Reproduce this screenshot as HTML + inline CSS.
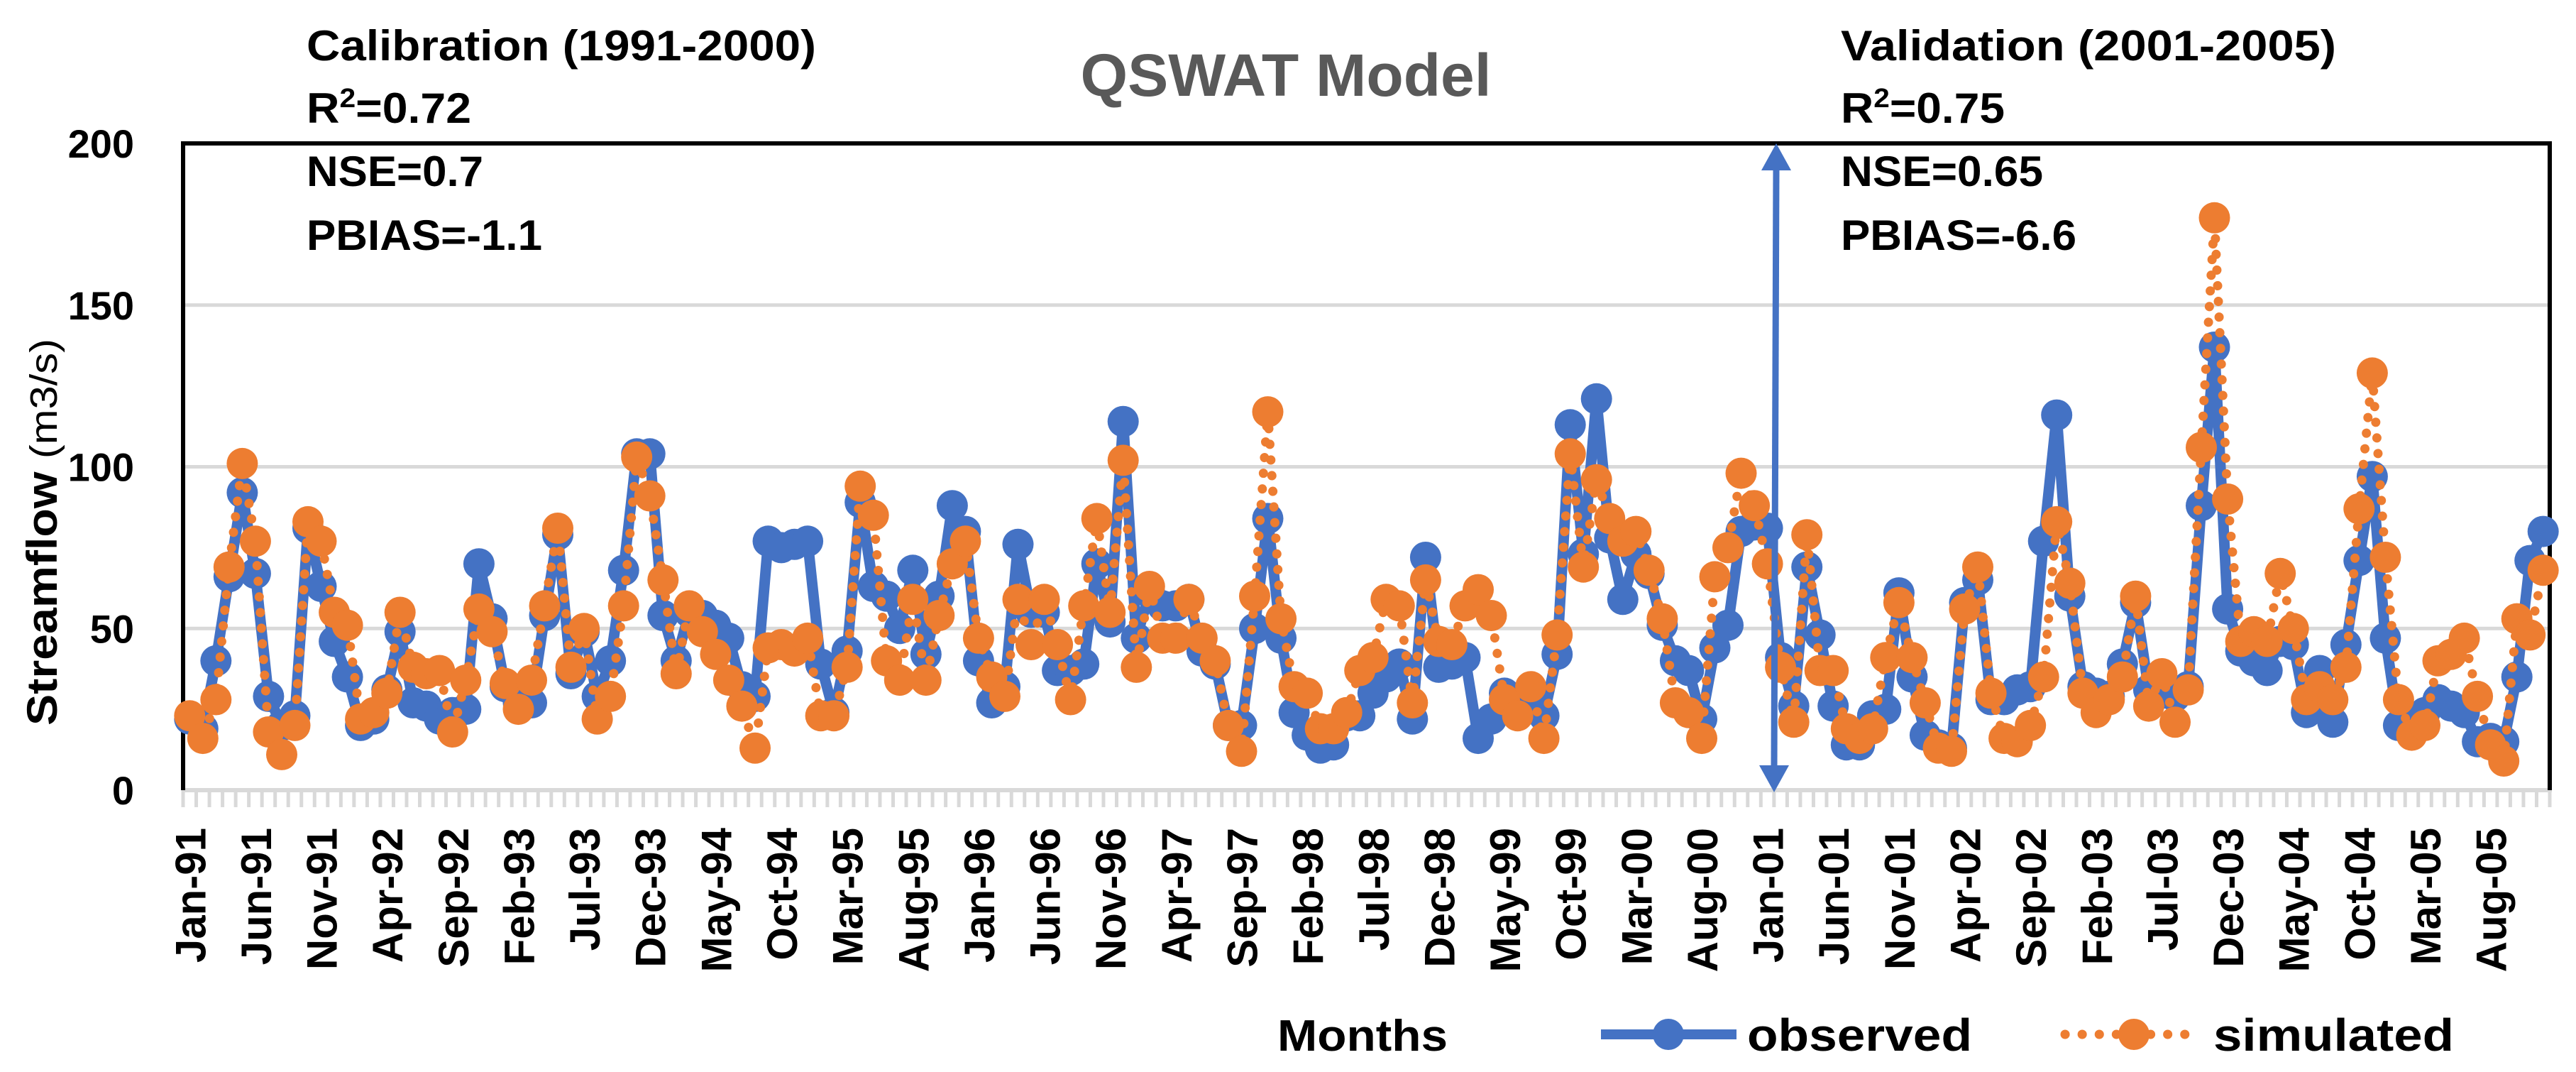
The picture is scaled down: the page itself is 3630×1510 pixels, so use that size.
<!DOCTYPE html>
<html><head><meta charset="utf-8"><style>
html,body{margin:0;padding:0;background:#fff;}
svg{display:block;font-family:"Liberation Sans",sans-serif;}
</style></head><body>
<svg id="chart" width="3630" height="1510" viewBox="0 0 3630 1510" xmlns="http://www.w3.org/2000/svg">
<rect x="0" y="0" width="3630" height="1510" fill="#fff"/>
<g id="grid"></g>
<g id="xaxis"></g>
<g id="yaxis"></g>
<g id="series"></g>
<text x="1812" y="135" text-anchor="middle" font-size="84" font-weight="bold" fill="#595959" textLength="579" lengthAdjust="spacingAndGlyphs">QSWAT Model</text>
<g font-size="60" font-weight="bold" fill="#000">
<text x="432" y="85" textLength="718" lengthAdjust="spacingAndGlyphs">Calibration (1991-2000)</text>
<text x="432" y="173" textLength="232" lengthAdjust="spacingAndGlyphs">R<tspan font-size="38" dy="-22">2</tspan><tspan dy="22">=0.72</tspan></text>
<text x="432" y="262" textLength="249" lengthAdjust="spacingAndGlyphs">NSE=0.7</text>
<text x="432" y="352" textLength="332" lengthAdjust="spacingAndGlyphs">PBIAS=-1.1</text>
</g>
<g font-size="60" font-weight="bold" fill="#000">
<text x="2594" y="85" textLength="698" lengthAdjust="spacingAndGlyphs">Validation (2001-2005)</text>
<text x="2594" y="173" textLength="231" lengthAdjust="spacingAndGlyphs">R<tspan font-size="38" dy="-22">2</tspan><tspan dy="22">=0.75</tspan></text>
<text x="2594" y="262" textLength="285" lengthAdjust="spacingAndGlyphs">NSE=0.65</text>
<text x="2594" y="352" textLength="332" lengthAdjust="spacingAndGlyphs">PBIAS=-6.6</text>
</g>
<text transform="translate(80,1022) rotate(-90)" font-size="60" fill="#000" textLength="545" lengthAdjust="spacingAndGlyphs"><tspan font-weight="bold">Streamflow </tspan><tspan font-size="54">(m3/s)</tspan></text>
<text x="1800" y="1480" font-size="62" font-weight="bold" textLength="240" lengthAdjust="spacingAndGlyphs">Months</text>
<g>
<g>
<line x1="2256" y1="1457" x2="2447" y2="1457" stroke="#4472C4" stroke-width="14"/>
<circle cx="2351" cy="1457" r="22" fill="#4472C4"/>
<text x="2462" y="1480" font-size="64" font-weight="bold" textLength="317" lengthAdjust="spacingAndGlyphs">observed</text>
</g>
<g>
<line x1="2910" y1="1457" x2="3080" y2="1457" stroke="#ED7D31" stroke-width="13" stroke-dasharray="0.1 24" stroke-linecap="round"/>
<circle cx="3007" cy="1457" r="22" fill="#ED7D31"/>
<text x="3119" y="1480" font-size="64" font-weight="bold" textLength="339" lengthAdjust="spacingAndGlyphs">simulated</text>
</g>
</g>
<g>
<line x1="2503" y1="236" x2="2500" y2="1080" stroke="#4472C4" stroke-width="9"/>
<polygon points="2503,202 2524,240 2482,240" fill="#4472C4"/>
<polygon points="2500,1116 2521,1078 2479,1078" fill="#4472C4"/>
</g>
</svg>
<script>
const months = ["Jan","Feb","Mar","Apr","May","Jun","Jul","Aug","Sep","Oct","Nov","Dec"];
const startYear = 1991;
const monthCount = 180;
const yTicks = [0, 50, 100, 150, 200];
const observed = [
22,19,40,66,92,67,29,20,23,81,63,46,
35,20,22,31,49,27,26,22,24,25,70,53,
32,27,27,54,79,36,49,29,40,68,104,104,
54,40,55,54,51,47,32,29,77,75,76,77,
39,24,43,89,63,60,50,68,42,60,88,80,
40,27,32,76,55,55,37,37,39,70,52,114,
47,61,57,57,59,43,39,20,20,50,84,47,
24,17,13,14,23,23,30,35,39,22,72,38,
39,41,16,22,30,24,27,23,42,113,73,121,
78,59,73,67,51,40,37,22,44,51,80,82,
81,41,26,69,48,26,14,14,23,25,61,35,
17,14,13,58,65,28,28,31,32,77,116,60,
32,30,29,39,58,31,30,29,32,88,137,56,
43,40,37,46,45,24,37,21,45,71,97,47,
20,22,24,28,26,24,15,16,15,35,71,80
];
const simulated = [
23,16,28,69,101,77,18,11,20,83,77,55,
51,22,24,30,55,38,36,37,18,34,56,49,
33,25,34,57,81,38,50,22,29,57,103,91,
65,36,57,49,42,34,26,13,44,45,43,47,
23,23,38,94,85,40,34,59,34,54,70,77,
47,35,29,59,45,59,45,28,57,84,55,102,
38,63,47,47,59,47,40,20,12,60,117,53,
32,30,19,19,24,37,41,59,57,27,65,46,
45,57,62,54,28,23,32,16,48,104,69,96,
84,77,80,68,53,27,24,16,66,75,98,88,
70,38,21,79,37,37,19,16,19,41,58,41,
27,13,12,56,69,30,16,15,20,35,83,64,
30,24,28,35,60,26,36,21,31,106,177,90,
46,49,46,67,50,28,32,28,38,87,129,72,
28,17,20,40,42,47,29,14,9,53,48,68
];

const NS = "http://www.w3.org/2000/svg";
const plotL = 258, plotR = 3593, plotT = 202, plotB = 1113;
const yMax = 200;
const slot = (plotR - plotL) / monthCount;
function xPos(i){ return plotL + slot * (i + 0.5); }
function yPos(v){ return plotB - (v / yMax) * (plotB - plotT); }
function mk(tag, attrs, parent){
  const el = document.createElementNS(NS, tag);
  for (const k in attrs) el.setAttribute(k, attrs[k]);
  parent.appendChild(el);
  return el;
}
const grid = document.getElementById('grid');
const xaxis = document.getElementById('xaxis');
const yaxis = document.getElementById('yaxis');
const series = document.getElementById('series');

yTicks.forEach(function(t){
  if (t > 0) {
    const gl = mk('line', {x1: plotL, x2: plotR, y1: yPos(t), y2: yPos(t), stroke: '#D9D9D9', 'stroke-width': 5}, grid);
    
    
  }
  const lb = mk('text', {x: 189, y: yPos(t) + 20, 'text-anchor': 'end', 'font-size': 56, 'font-weight': 'bold'}, yaxis);
  lb.textContent = String(t);
  
  
});

const frame = mk('path', {d: 'M' + plotL + ' ' + plotB + ' V' + plotT + ' H' + plotR + ' V' + plotB, fill: 'none', stroke: '#000', 'stroke-width': 6}, yaxis);


const xline = mk('line', {x1: plotL, x2: plotR + 3, y1: plotB, y2: plotB, stroke: '#D9D9D9', 'stroke-width': 6}, xaxis);


for (let i = 0; i <= monthCount; i++) {
  const tx = plotL + slot * i;
  const tk = mk('line', {x1: tx, x2: tx, y1: plotB, y2: plotB + 24, stroke: '#D9D9D9', 'stroke-width': 5}, xaxis);
  
  
}
for (let i = 0; i < monthCount; i += 5) {
  const yr = (startYear + Math.floor(i / 12)) % 100;
  const label = months[i % 12] + '-' + (yr < 10 ? '0' + yr : yr);
  const lx = xPos(i) + 22, ly = 1166;
  const t = mk('text', {x: 0, y: 0, transform: 'translate(' + lx + ',' + ly + ') rotate(-90)', 'text-anchor': 'end', 'font-size': 60, 'font-weight': 'bold'}, xaxis);
  t.textContent = label;
  
  
}

function drawSeries(vals, color, dotted, name){
  const g = mk('g', {}, series);
  
  
  let d = '';
  vals.forEach(function(v, i){ d += (i ? ' L' : 'M') + xPos(i).toFixed(1) + ' ' + yPos(v).toFixed(1); });
  const attrs = {d: d, fill: 'none', stroke: color, 'stroke-width': dotted ? 13 : 15, 'stroke-linejoin': 'round'};
  if (dotted) { attrs['stroke-dasharray'] = '0.1 22'; attrs['stroke-linecap'] = 'round'; }
  const p = mk('path', attrs, g);
  
  
  vals.forEach(function(v, i){
    const c = mk('circle', {cx: xPos(i).toFixed(1), cy: yPos(v).toFixed(1), r: 22, fill: color}, g);
    
    
  });
}
drawSeries(observed, '#4472C4', false, 'observed');
drawSeries(simulated, '#ED7D31', true, 'simulated');
</script>
</body></html>
